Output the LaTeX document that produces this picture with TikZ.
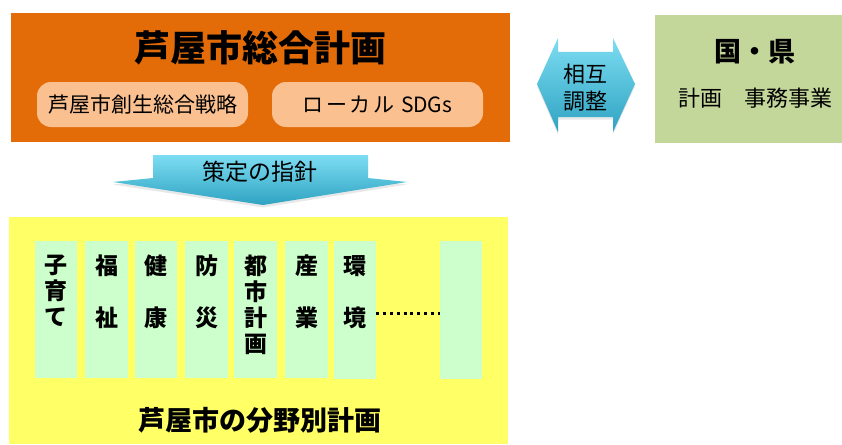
\documentclass[tikz,border=0pt]{standalone}
\usepackage{fontspec}
\setmainfont{Noto Sans CJK JP}
\usetikzlibrary{shadings,shadows}
\definecolor{orangebox}{HTML}{E36C09}
\definecolor{pill}{HTML}{FAC090}
\definecolor{yellowbox}{HTML}{FFFF66}
\definecolor{colgreen}{HTML}{CCFFCC}
\definecolor{govgreen}{HTML}{C4D79B}
\definecolor{cyantop}{HTML}{7DDDF2}
\definecolor{cyanbot}{HTML}{2FA3C2}
\tikzset{
  panel/.style={anchor=north west, inner sep=0pt, outer sep=0pt},
  pillbox/.style={fill=pill, rounded corners=14pt, minimum width=211pt, minimum height=45pt, inner sep=0pt, font=\fontsize{21}{24}\selectfont},
  colbox/.style={fill=colgreen, anchor=north west, inner sep=0pt, minimum width=42pt, minimum height=137pt},
  coltext/.style={anchor=north, inner sep=0pt, align=center, font=\bfseries\fontsize{23}{26}\selectfont},
  arrowshape/.style={top color=cyantop, bottom color=cyanbot, draw=none,
    drop shadow={opacity=0.18, shadow xshift=0pt, shadow yshift=-2.5pt}},
}
\begin{document}
\begin{tikzpicture}[x=1pt,y=-1pt]
\useasboundingbox (0,0) rectangle (842,444);
% orange main box
\node[panel, fill=orangebox, minimum width=499pt, minimum height=129pt] (main) at (11,13) {};
\node[font=\bfseries\fontsize{36}{40}\selectfont] (title) at (260,48) {芦屋市総合計画};
\node[pillbox] (p1) at (142.5,104.5) {芦屋市創生総合戦略};
\node[pillbox] (p2) at (377.5,104.5) {{\addfontfeature{LetterSpace=12}ローカル} \hspace{2pt}SDGs};
% yellow box
\node[panel, fill=yellowbox, minimum width=499pt, minimum height=227pt] (field) at (9,217) {};
% down arrow
\path[arrowshape] (153,155) -- (368,155) -- (368,178) -- (407,182) -- (263,205) -- (113,182) -- (153,178) -- cycle;
\node[font=\fontsize{23}{25}\selectfont] (guide) at (260,172) {策定の指針};
% double arrow
\path[arrowshape] (537,84) -- (558,38) -- (558,52) -- (613,52) -- (613,38) -- (635,84) -- (613,132) -- (613,117) -- (558,117) -- (558,132) -- cycle;
\node[align=center, font=\fontsize{22}{27}\selectfont, inner sep=0pt] (mutual) at (585,88) {相互\\調整};
% national / prefecture box
\node[panel, fill=govgreen, minimum width=187pt, minimum height=128pt] (gov) at (655,15) {};
\node[font=\bfseries\fontsize{27}{30}\selectfont] (govtitle) at (755,52) {国・県};
\node[font=\fontsize{22}{24}\selectfont] (govtext) at (755,98) {計画　事務事業};
% columns
\node[colbox] (c1) at (35,241) {};
\node[colbox, minimum width=43pt] (c2) at (85,241) {};
\node[colbox] (c3) at (135,241) {};
\node[colbox, minimum width=43pt] (c4) at (185,241) {};
\node[colbox, minimum width=43pt] (c5) at (234,241) {};
\node[colbox, minimum width=43pt] (c6) at (285,241) {};
\node[colbox, minimum height=138pt] (c7) at (334,241) {};
\node[colbox, minimum height=138pt] (c8) at (440,241) {};
\node[coltext] (t1) at (c1.north |- 0,255) {子\\育\\て};
\node[coltext] (t2) at (c2.north |- 0,255) {福\\[26pt]祉};
\node[coltext] (t3) at (c3.north |- 0,255) {健\\[26pt]康};
\node[coltext] (t4) at (c4.north |- 0,255) {防\\[26pt]災};
\node[coltext] (t5) at (c5.north |- 0,255) {都\\市\\計\\画};
\node[coltext] (t6) at (c6.north |- 0,255) {産\\[26pt]業};
\node[coltext] (t7) at (c7.north |- 0,255) {環\\[26pt]境};
\draw[line width=3pt, dash pattern=on 3pt off 3.8pt] ([yshift=-3pt]c7.east) -- ([yshift=-3pt]c8.west);
\node[font=\bfseries\fontsize{27}{30}\selectfont] (fieldtitle) at (260,420) {芦屋市の分野別計画};
\end{tikzpicture}
\end{document}
